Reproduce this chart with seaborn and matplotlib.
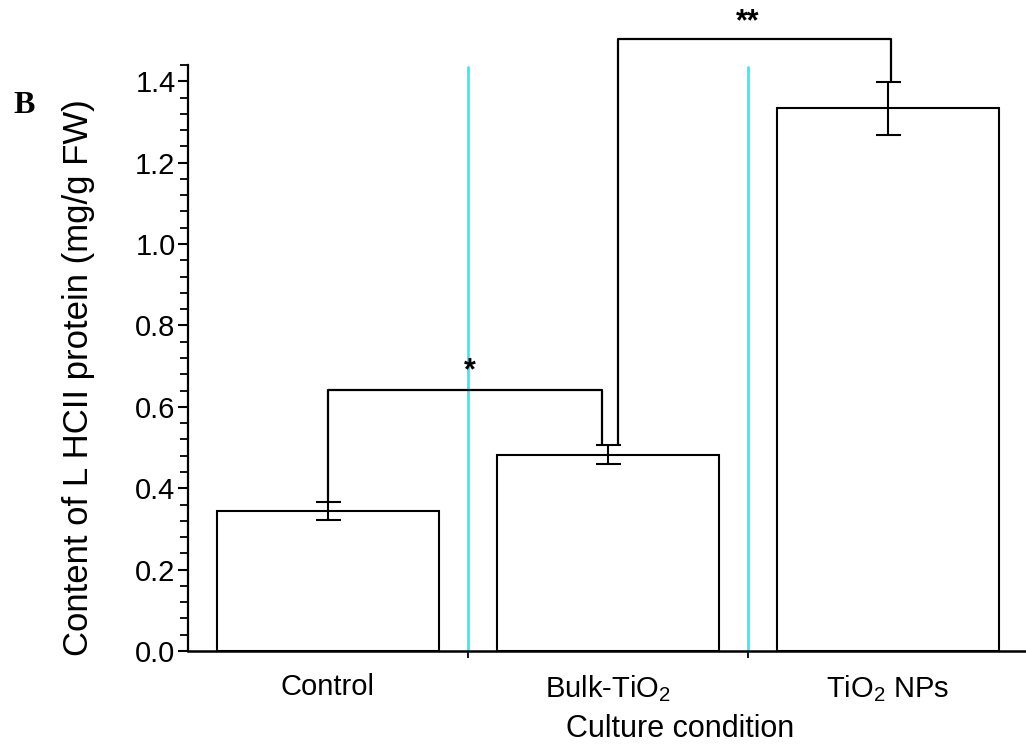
import matplotlib
matplotlib.use("Agg")
import matplotlib.pyplot as plt
import seaborn as sns
import pandas as pd
import numpy as np
from matplotlib.ticker import MultipleLocator, FixedLocator

# ---- data ----
categories = ["Control", "Bulk-TiO$_2$", "TiO$_2$ NPs"]
means = [0.344, 0.482, 1.334]
errors = [0.023, 0.023, 0.065]
yticks = [0.0, 0.2, 0.4, 0.6, 0.8, 1.0, 1.2, 1.4]
sig_labels = ["*", "**"]

sns.set_style("ticks")
plt.rcParams['font.family'] = ['Liberation Sans', 'DejaVu Sans']
plt.rcParams['mathtext.fontset'] = 'custom'
plt.rcParams['mathtext.rm'] = 'Liberation Sans'
plt.rcParams['mathtext.it'] = 'Liberation Sans'
for k in ['text.color', 'axes.labelcolor', 'xtick.color', 'ytick.color', 'axes.edgecolor']:
    plt.rcParams[k] = 'black'

fig = plt.figure(figsize=(10.26, 7.51), dpi=100)
ax = fig.add_axes([188/1026, 1-651/751, 840/1026, 586/751])

df = pd.DataFrame({"cond": categories, "val": means})
sns.barplot(data=df, x="cond", y="val", order=categories, color="white",
            edgecolor="black", linewidth=1.5, width=0.79, errorbar=None, ax=ax,
            zorder=2)
ax.errorbar(range(len(categories)), means, yerr=errors, fmt="none",
            ecolor="black", elinewidth=1.5, capsize=9, capthick=1.5, zorder=3)

ax.set_xlim(-0.5, 2.5)
ax.set_ylim(0, 1.44)

# cyan separators
for xs in [0.5, 1.5]:
    ax.plot([xs, xs], [0, 1.435], color="#30eef6", lw=2.0, zorder=1, clip_on=False)

# significance brackets
bk = dict(color="black", lw=1.6, clip_on=False, zorder=4)
ax.plot([0.0, 0.0, 0.98, 0.98], [means[0]+errors[0], 0.641, 0.641, means[1]+errors[1]], **bk)
ax.text(0.507, 0.650, sig_labels[0], ha="center", va="bottom", fontsize=22, fontweight="bold")
ax.plot([1.035, 1.035, 2.01, 2.01], [means[1]+errors[1], 1.503, 1.503, means[2]+errors[2]], **bk)
ax.text(1.50, 1.507, sig_labels[1], ha="center", va="bottom", fontsize=22, fontweight="bold",
        clip_on=False)

# axes styling
ax.spines["right"].set_visible(False)
ax.spines["top"].set_visible(False)
ax.spines["left"].set_linewidth(1.6)
ax.spines["bottom"].set_linewidth(1.8)
ax.set_yticks(yticks)
ax.set_yticklabels([f"{v:.1f}" for v in yticks])
ax.yaxis.set_minor_locator(MultipleLocator(0.04))
ax.tick_params(axis="y", which="major", length=7, width=1.5, labelsize=21, pad=2, direction="out")
ax.tick_params(axis="y", which="minor", length=5.5, width=1.3, direction="out", left=True)
ax.set_xticks(range(len(categories)))
ax.set_xticklabels(categories)
ax.xaxis.set_minor_locator(FixedLocator([0.5, 1.5, 2.5]))
ax.tick_params(axis="x", which="major", length=0, labelsize=21, pad=16)
ax.tick_params(axis="x", which="minor", length=5, width=1.3, direction="out", bottom=True)

ax.set_xlabel("Culture condition", fontsize=22)
ax.xaxis.set_label_coords(0.586, -0.108)
ax.set_ylabel("Content of L HCII protein (mg/g FW)", fontsize=25)
ax.yaxis.set_label_coords(-0.111, 0.466)

fig.text(13/1026, 1-113/751, "B", fontsize=23, fontweight="bold",
         family=["Liberation Serif", "DejaVu Serif"], va="baseline", ha="left")

fig.savefig("out.png", dpi=100, facecolor="white")
